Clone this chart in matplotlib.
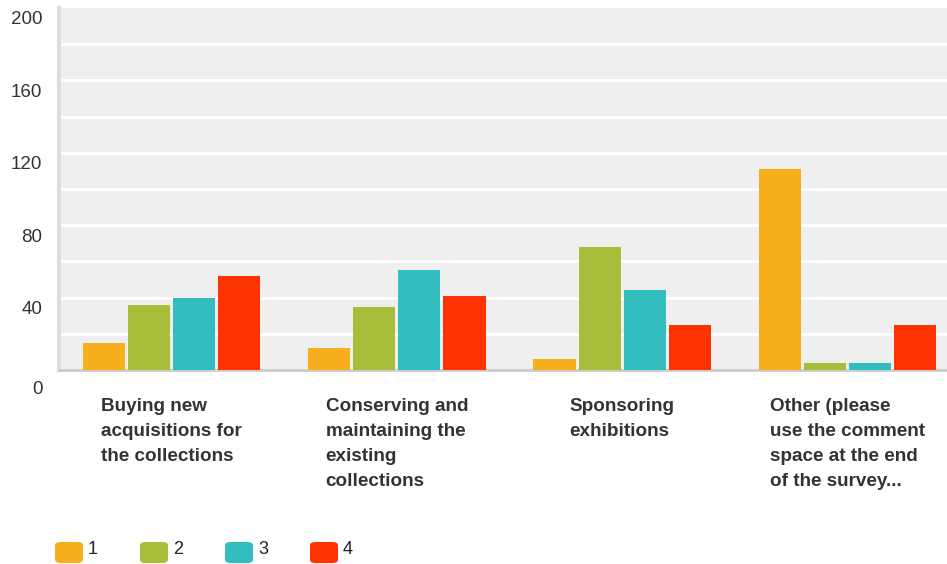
import numpy as np
import matplotlib
matplotlib.use('Agg')
import matplotlib.pyplot as plt
import matplotlib.transforms as mtransforms
from matplotlib.patches import FancyBboxPatch

plt.rcParams['font.family'] = ['Liberation Sans', 'DejaVu Sans']

categories = ['Buying new\nacquisitions for\nthe collections',
              'Conserving and\nmaintaining the\nexisting\ncollections',
              'Sponsoring\nexhibitions',
              'Other (please\nuse the comment\nspace at the end\nof the survey...']
series_names = ['1', '2', '3', '4']
vals_1 = [15, 12, 6, 111]
vals_2 = [36, 35, 68, 4]
vals_3 = [40, 55, 44, 4]
vals_4 = [52, 41, 25, 25]
y_ticks = [0, 40, 80, 120, 160, 200]

COLORS = ['#F7AF1E', '#AABD3A', '#33BDBF', '#FF3300']
BG = '#EFEFEF'
TXT = '#333333'

fig = plt.figure(figsize=(9.47, 5.64), dpi=100)
W, H = 947, 564
# axes: x 59..947, y 8..370 (pixels from top)
ax = fig.add_axes([59 / W, 1 - 370 / H, (947 - 59) / W, (370 - 8) / H])
ax.set_facecolor(BG)

x = np.arange(len(categories))
series = [vals_1, vals_2, vals_3, vals_4]
offsets = [-0.3, -0.1, 0.1, 0.3]
for vals, off, col in zip(series, offsets, COLORS):
    ax.bar(x + off, vals, width=0.187, color=col, zorder=3)

ax.set_ylim(0, 200)
ax.set_xlim(-0.5, 3.5 - 13 / 225)

# white gridlines every 20
for g in range(20, 200, 20):
    ax.axhline(g, color='white', linewidth=2.2, zorder=1)
ax.set_yticks(y_ticks)
ax.set_yticklabels([str(t) for t in y_ticks])
ax.tick_params(axis='y', which='both', length=0, labelsize=13.5, labelcolor=TXT, pad=12)
ax.set_xticks([])

for lab in ax.get_yticklabels():
    dy = -17 if lab.get_text() == '0' else -10
    lab.set_transform(lab.get_transform() + mtransforms.ScaledTranslation(0, dy / 100, fig.dpi_scale_trans))

for s in ['top', 'right']:
    ax.spines[s].set_visible(False)
ax.spines['left'].set_color('#DDDDDD')
ax.spines['left'].set_linewidth(3)
ax.spines['bottom'].set_color('#CCCCCC')
ax.spines['bottom'].set_linewidth(2)

# category labels
for xi, cat in zip(x, categories):
    ax.text(xi, -0.078, cat, transform=ax.get_xaxis_transform(), ha='center', va='top',
            multialignment='left', fontsize=13.6, fontweight='bold', color=TXT, linespacing=1.6)

# legend
for i, (name, col) in enumerate(zip(series_names, COLORS)):
    x0 = 55 + i * 85
    box = FancyBboxPatch((x0 / W, 1 - 563 / H), 28 / W, 21 / H,
                         boxstyle='round,pad=0,rounding_size=0.006',
                         transform=fig.transFigure, facecolor=col, edgecolor='none')
    fig.patches.append(box)
    fig.text((x0 + 33) / W, 1 - 550 / H, name, fontsize=13, color='#222222', va='center', ha='left')

fig.savefig('out.png', dpi=100, facecolor='white')
